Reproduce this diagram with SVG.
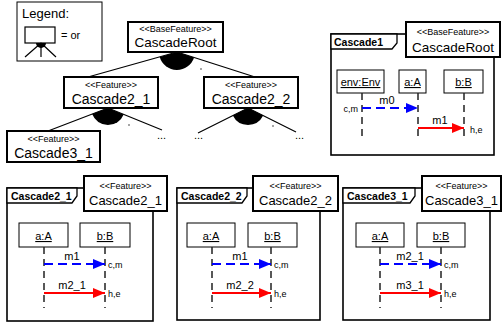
<svg xmlns="http://www.w3.org/2000/svg" width="502" height="325" viewBox="0 0 502 325">
<defs>
<marker id="ab" markerWidth="12" markerHeight="10" refX="12" refY="5" orient="auto" markerUnits="userSpaceOnUse"><path d="M0,0 L12,5 L0,10 Z" fill="#0000ff"/></marker>
<marker id="ar" markerWidth="12" markerHeight="10" refX="12" refY="5" orient="auto" markerUnits="userSpaceOnUse"><path d="M0,0 L12,5 L0,10 Z" fill="#ff0000"/></marker>
</defs>
<style>
text{font-family:"Liberation Sans",Arial,sans-serif;fill:#000}
.fb{fill:#fff;stroke:#000;stroke-width:2}
.st{font-size:9px;text-anchor:middle}
.nm{font-size:14px;text-anchor:middle}
.nm2{font-size:13px;text-anchor:middle}
.fr{fill:none;stroke:#000;stroke-width:1.6}
.tab{fill:#fff;stroke:#000;stroke-width:1.3}
.ft{font-size:10.5px;font-weight:bold}
.lb{fill:#fff;stroke:#000;stroke-width:1}
.ln{font-size:11px;text-anchor:middle;text-decoration:underline}
.ll{stroke:#222;stroke-width:1.5;stroke-dasharray:7,5}
.mb{stroke:#0000ff;stroke-width:2;stroke-dasharray:9,5;fill:none}
.mr{stroke:#ff0000;stroke-width:2;fill:none}
.ml{font-size:11px;text-anchor:middle}
.sl{font-size:9px}
.tl{stroke:#000;stroke-width:1.2;fill:none}
.dot{font-size:11px}
</style>
<g id="legend">
<rect x="17" y="2" width="85" height="59" fill="#fff" stroke="#000" stroke-width="1"/>
<text x="22" y="18" style="font-size:13px">Legend:</text>
<rect x="25" y="27" width="30" height="16" fill="#fff" stroke="#000" stroke-width="1.2"/>
<path d="M41,43 L46,43 A5,5 0 0 1 36,43 Z" fill="#000"/>
<path d="M41,43 L25,57 M41,43 L41,57 M41,43 L56,57" class="tl"/>
<text x="61" y="39" style="font-size:11px">= or</text>
</g>
<g id="tree-connectors">
<path d="M177,52 L194.1,57.5 A18,18 0 0 1 159.7,56.9 Z" fill="#000"/>
<path d="M177,52 L88,77 M177,52 L255,77" class="tl"/>
<circle cx="201" cy="69" r="0.8" fill="#333"/>
<path d="M108,108 L123.7,114.4 A17,17 0 0 1 92.1,114.1 Z" fill="#000"/>
<path d="M108,108 L48,131 M108,108 L162,130" class="tl"/>
<circle cx="129" cy="125" r="0.8" fill="#333"/>
<path d="M248,108 L263.2,115.6 A17,17 0 0 1 232.8,115.6 Z" fill="#000"/>
<path d="M248,108 L198,133 M248,108 L296,132" class="tl"/>
<circle cx="273" cy="126" r="0.8" fill="#333"/>
<text x="157" y="139" class="dot">...</text>
<text x="194" y="139" class="dot">...</text>
<text x="295" y="139" class="dot">...</text>
</g>
<g id="CascadeRoot">
<rect x="128" y="22" width="95" height="30" class="fb"/>
<text x="175.5" y="32" class="st">&lt;&lt;BaseFeature&gt;&gt;</text>
<text x="175.5" y="47" class="nm" style="font-size:13.5px">CascadeRoot</text>
</g>
<g id="Cascade2_1">
<rect x="64" y="77" width="94" height="31" class="fb"/>
<text x="111" y="88" class="st">&lt;&lt;Feature&gt;&gt;</text>
<text x="111" y="104" class="nm">Cascade2_1</text>
</g>
<g id="Cascade2_2">
<rect x="204" y="77" width="94" height="31" class="fb"/>
<text x="251" y="88" class="st">&lt;&lt;Feature&gt;&gt;</text>
<text x="251" y="104" class="nm">Cascade2_2</text>
</g>
<g id="Cascade3_1">
<rect x="7" y="131" width="93" height="31" class="fb"/>
<text x="53.5" y="142" class="st">&lt;&lt;Feature&gt;&gt;</text>
<text x="53.5" y="158" class="nm">Cascade3_1</text>
</g>
<g id="frame-Cascade1">
<rect x="331" y="34" width="163" height="121" class="fr"/>
<path d="M331,34 L397,34 L397,43 L392,49 L331,49 Z" class="tab"/>
<text x="334" y="46" class="ft">Cascade1</text>
<rect x="406" y="22" width="94" height="35" class="fb"/>
<text x="453" y="35" class="st">&lt;&lt;BaseFeature&gt;&gt;</text>
<text x="453" y="52" class="nm2" style="font-size:13.5px">CascadeRoot</text>
<rect x="337" y="70" width="47" height="23" class="lb"/>
<text x="360.5" y="86" class="ln">env:Env</text>
<rect x="399" y="70" width="27" height="23" class="lb"/>
<text x="412.5" y="86" class="ln">a:A</text>
<rect x="444" y="70" width="39" height="23" class="lb"/>
<text x="463.5" y="86" class="ln">b:B</text>
<line x1="362" y1="93" x2="362" y2="140" class="ll"/>
<line x1="418" y1="93" x2="418" y2="140" class="ll"/>
<line x1="464" y1="93" x2="464" y2="140" class="ll"/>
<line x1="362" y1="108" x2="418" y2="108" class="mb" marker-end="url(#ab)"/>
<text x="387" y="104" class="ml">m0</text>
<text x="358" y="112" class="sl" text-anchor="end">c,m</text>
<line x1="418" y1="128" x2="464" y2="128" class="mr" marker-end="url(#ar)"/>
<text x="440" y="124" class="ml">m1</text>
<text x="470" y="133" class="sl">h,e</text>
</g>
<g id="frame-Cascade2_1">
<rect x="7" y="188" width="146" height="133" class="fr"/>
<path d="M7,188 L77,188 L77,196 L72,203 L7,203 Z" class="tab"/>
<text x="11" y="200" class="ft">Cascade2_1</text>
<rect x="84" y="176" width="83" height="35" class="fb"/>
<text x="125.5" y="189" class="st">&lt;&lt;Feature&gt;&gt;</text>
<text x="125.5" y="205" class="nm2">Cascade2_1</text>
<rect x="19" y="223" width="49" height="24" class="lb"/>
<text x="43.5" y="240" class="ln">a:A</text>
<rect x="80" y="223" width="50" height="24" class="lb"/>
<text x="105" y="240" class="ln">b:B</text>
<line x1="44" y1="247" x2="44" y2="308" class="ll"/>
<line x1="105" y1="247" x2="105" y2="308" class="ll"/>
<line x1="44" y1="264" x2="105" y2="264" class="mb" marker-end="url(#ab)"/>
<text x="72" y="260" class="ml">m1</text>
<text x="108" y="268" class="sl">c,m</text>
<line x1="44" y1="293" x2="105" y2="293" class="mr" marker-end="url(#ar)"/>
<text x="72" y="289" class="ml">m2_1</text>
<text x="108" y="297" class="sl">h,e</text>
</g>
<g id="frame-Cascade2_2">
<rect x="177" y="188" width="143" height="132" class="fr"/>
<path d="M177,188 L247,188 L247,196 L242,203 L177,203 Z" class="tab"/>
<text x="181" y="200" class="ft">Cascade2_2</text>
<rect x="253" y="176" width="85" height="35" class="fb"/>
<text x="295.5" y="189" class="st">&lt;&lt;Feature&gt;&gt;</text>
<text x="295.5" y="205" class="nm2">Cascade2_2</text>
<rect x="187" y="223" width="48" height="24" class="lb"/>
<text x="211" y="240" class="ln">a:A</text>
<rect x="248" y="223" width="49" height="24" class="lb"/>
<text x="272.5" y="240" class="ln">b:B</text>
<line x1="212" y1="247" x2="212" y2="308" class="ll"/>
<line x1="271" y1="247" x2="271" y2="308" class="ll"/>
<line x1="212" y1="264" x2="271" y2="264" class="mb" marker-end="url(#ab)"/>
<text x="240" y="260" class="ml">m1</text>
<text x="274" y="268" class="sl">c,m</text>
<line x1="212" y1="293" x2="271" y2="293" class="mr" marker-end="url(#ar)"/>
<text x="240" y="289" class="ml">m2_2</text>
<text x="274" y="297" class="sl">h,e</text>
</g>
<g id="frame-Cascade3_1">
<rect x="343" y="188" width="147" height="132" class="fr"/>
<path d="M343,188 L415,188 L415,196 L410,203 L343,203 Z" class="tab"/>
<text x="347" y="200" class="ft">Cascade3_1</text>
<rect x="422" y="176" width="79" height="35" class="fb"/>
<text x="461.5" y="189" class="st">&lt;&lt;Feature&gt;&gt;</text>
<text x="461.5" y="205" class="nm2">Cascade3_1</text>
<rect x="356" y="223" width="48" height="24" class="lb"/>
<text x="380" y="240" class="ln">a:A</text>
<rect x="417" y="223" width="48" height="24" class="lb"/>
<text x="441" y="240" class="ln">b:B</text>
<line x1="380" y1="247" x2="380" y2="308" class="ll"/>
<line x1="441" y1="247" x2="441" y2="308" class="ll"/>
<line x1="380" y1="264" x2="441" y2="264" class="mb" marker-end="url(#ab)"/>
<text x="410" y="260" class="ml">m2_1</text>
<text x="444" y="268" class="sl">c,m</text>
<line x1="380" y1="293" x2="441" y2="293" class="mr" marker-end="url(#ar)"/>
<text x="410" y="289" class="ml">m3_1</text>
<text x="444" y="297" class="sl">h,e</text>
</g>
</svg>
